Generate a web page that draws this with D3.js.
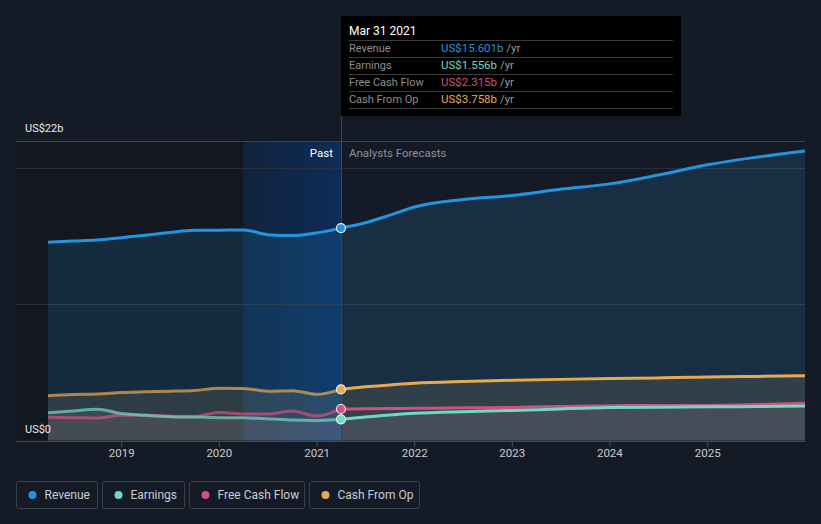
<!DOCTYPE html>
<html><head><meta charset="utf-8">
<script src="https://cdn.jsdelivr.net/npm/d3@7"></script>
<style>
html,body{margin:0;padding:0;background:#151b26;}
svg{display:block;font-family:Roboto,"Noto Sans",sans-serif;}
</style></head>
<body>
<svg id="c" width="821" height="524"></svg>
<script>
const pastDates = ["2018-03-31","2018-06-30","2018-09-30","2018-12-31","2019-03-31","2019-06-30","2019-09-30","2019-12-31","2020-03-31","2020-06-30","2020-09-30","2020-12-31","2021-03-31"];
const foreDates = ["2021-03-31","2021-06-30","2021-09-30","2021-12-31","2022-06-30","2022-12-31","2023-06-30","2023-12-31","2024-06-30","2024-12-31","2025-06-30","2025-12-31"];
const revenuePast = [14.57,14.65,14.72,14.9,15.08,15.28,15.44,15.45,15.47,15.12,15.05,15.25,15.601];
const revenueFore = [15.601,16.0,16.55,17.15,17.7,18.0,18.45,18.85,19.5,20.25,20.8,21.27];
const earningsPast = [2.04,2.16,2.29,1.98,1.85,1.75,1.72,1.68,1.67,1.6,1.5,1.47,1.556];
const earningsFore = [1.556,1.72,1.88,2.0,2.12,2.2,2.32,2.42,2.45,2.47,2.5,2.53];
const fcfPast = [1.70,1.68,1.65,1.85,1.85,1.78,1.76,2.05,1.95,1.95,2.17,1.8,2.315];
const fcfFore = [2.315,2.33,2.35,2.36,2.4,2.43,2.5,2.56,2.57,2.58,2.64,2.73];
const cfoPast = [3.29,3.38,3.42,3.52,3.58,3.62,3.68,3.84,3.82,3.62,3.66,3.39,3.758];
const cfoFore = [3.758,3.95,4.08,4.2,4.33,4.42,4.49,4.55,4.6,4.66,4.71,4.76];
const xTicks = ["2019","2020","2021","2022","2023","2024","2025"];
const seriesNames = ["Revenue","Earnings","Free Cash Flow","Cash From Op"];
const seriesColors = ["#2394df","#6fd9c7","#d0517f","#e8a94f"];
const tipValues = ["US$15.601b","US$1.556b","US$2.315b","US$3.758b"];

const parse = d3.timeParse("%Y-%m-%d");
const svg = d3.select("#c");
const x = d3.scaleTime().domain([parse("2018-03-31"), parse("2025-12-31")]).range([48, 805]);
const y = d3.scaleLinear().domain([0, 22]).range([440.5, 141]);
const nowD = parse("2021-03-31"), hiStart = parse("2020-03-31");

// darker past region
svg.append("rect").attr("x",16).attr("y",141).attr("width",x(hiStart)-16).attr("height",300).attr("fill","#10141b").attr("opacity",0.55);
const defs = svg.append("defs");
const g1 = defs.append("linearGradient").attr("id","hl").attr("x1","0").attr("x2","1").attr("y1","0").attr("y2","0");
g1.append("stop").attr("offset","0").attr("stop-color","#0d2a50").attr("stop-opacity",0.55);
g1.append("stop").attr("offset","1").attr("stop-color","#0d2d5a").attr("stop-opacity",1);
svg.append("rect").attr("x",x(hiStart)).attr("y",141).attr("width",x(nowD)-x(hiStart)).attr("height",300).attr("fill","url(#hl)");

// gridlines
[20,10].forEach(v=>svg.append("line").attr("x1",16).attr("x2",805).attr("y1",Math.round(y(v))+0.5).attr("y2",Math.round(y(v))+0.5).attr("stroke","#2a303b").attr("stroke-width",1));
svg.append("line").attr("x1",16).attr("x2",805).attr("y1",141.5).attr("y2",141.5).attr("stroke","#3c424d");

const curve = d3.curveMonotoneX;
const mk = (dates, vals)=>dates.map((d,i)=>({d:parse(d), v:vals[i]}));
const series = [
  {past:mk(pastDates,revenuePast), fore:mk(foreDates,revenueFore)},
  {past:mk(pastDates,earningsPast), fore:mk(foreDates,earningsFore)},
  {past:mk(pastDates,fcfPast), fore:mk(foreDates,fcfFore)},
  {past:mk(pastDates,cfoPast), fore:mk(foreDates,cfoFore)}
];
const area = d3.area().x(p=>x(p.d)).y0(y(0)).y1(p=>y(p.v)).curve(curve);
const line = d3.line().x(p=>x(p.d)).y(p=>y(p.v)).curve(curve);
const fillOp = [0.16,0.10,0.06,0.14];
const fillCol = ["#2394df","#b8c4d0","#d0517f","#c8b070"];
[0,3,2,1].forEach(i=>{
  const all = series[i].past.concat(series[i].fore.slice(1));
  svg.append("path").attr("d",area(all)).attr("fill",fillCol[i]).attr("opacity",fillOp[i]);
});
[3,2,1,0].forEach(i=>{
  svg.append("path").attr("d",line(series[i].past)).attr("fill","none").attr("stroke",seriesColors[i]).attr("stroke-width",3).attr("opacity",i===0?1:0.7);
  svg.append("path").attr("d",line(series[i].fore)).attr("fill","none").attr("stroke",seriesColors[i]).attr("stroke-width",3);
});

// axis
svg.append("line").attr("x1",16).attr("x2",805).attr("y1",441.5).attr("y2",441.5).attr("stroke","#474d58");
const xa = svg.append("g");
xTicks.forEach(t=>{
  const xx = x(parse(t+"-01-01"));
  xa.append("line").attr("x1",xx).attr("x2",xx).attr("y1",442).attr("y2",447).attr("stroke","#474d58");
  xa.append("text").attr("x",xx).attr("y",457).attr("text-anchor","middle").attr("fill","#c9ccd1").attr("font-size",11.5).text(t);
});
svg.append("text").attr("x",25).attr("y",132).attr("fill","#e8eaed").attr("font-size",11).text("US$22b");
svg.append("text").attr("x",25).attr("y",433).attr("fill","#e8eaed").attr("font-size",11).text("US$0");

// divider
svg.append("line").attr("x1",x(nowD)+0.5).attr("x2",x(nowD)+0.5).attr("y1",16).attr("y2",441).attr("stroke","#2e4a6e").attr("stroke-width",1);
svg.append("text").attr("x",x(nowD)-8).attr("y",157).attr("text-anchor","end").attr("fill","#ffffff").attr("font-size",11.5).text("Past");
svg.append("text").attr("x",x(nowD)+8).attr("y",157).attr("fill","#8b9099").attr("font-size",11.5).text("Analysts Forecasts");

// markers
[3,2,1,0].forEach(i=>{
  const p = series[i].past[series[i].past.length-1];
  svg.append("circle").attr("cx",x(p.d)).attr("cy",y(p.v)).attr("r",4.5).attr("fill",seriesColors[i]).attr("stroke","#e8eef5").attr("stroke-width",1.2);
});

// tooltip
const tx = x(nowD);
const tip = svg.append("g");
tip.append("rect").attr("x",tx).attr("y",16).attr("width",340).attr("height",100).attr("fill","#000");
tip.append("text").attr("x",tx+8).attr("y",35).attr("fill","#fff").attr("font-size",12).text("Mar 31 2021");
for(let i=0;i<5;i++){
  tip.append("line").attr("x1",tx+8).attr("x2",tx+332).attr("y1",40.5+i*17).attr("y2",40.5+i*17).attr("stroke","#3a3a3a");
}
seriesNames.forEach((n,i)=>{
  const yy = 52+i*17;
  tip.append("text").attr("x",tx+8).attr("y",yy).attr("fill","#8e8e8e").attr("font-size",11).text(n);
  const t = tip.append("text").attr("x",tx+100).attr("y",yy).attr("font-size",11.5);
  t.append("tspan").attr("fill",seriesColors[i]).text(tipValues[i]);
  t.append("tspan").attr("fill","#9a9a9a").text(" /yr");
});

// legend
const lg = svg.append("g");
let lx = 16.5;
const widths = [81,82,115,110];
seriesNames.forEach((n,i)=>{
  lg.append("rect").attr("x",lx).attr("y",481.5).attr("width",widths[i]).attr("height",27).attr("rx",2).attr("fill","none").attr("stroke","#3b414c");
  lg.append("circle").attr("cx",lx+16).attr("cy",495).attr("r",4).attr("fill",seriesColors[i]);
  lg.append("text").attr("x",lx+28).attr("y",499).attr("fill","#c9ccd1").attr("font-size",12).text(n);
  lx += widths[i]+5;
});
</script>
</body></html>
